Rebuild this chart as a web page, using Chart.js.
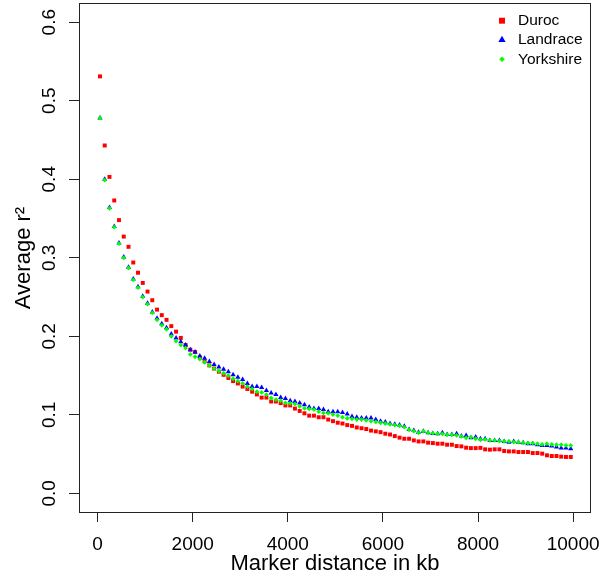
<!DOCTYPE html>
<html><head><meta charset="utf-8">
<script src="https://cdn.jsdelivr.net/npm/chart.js@4.4.1/dist/chart.umd.min.js"></script>
<style>html,body{margin:0;padding:0;background:#fff;} #wrap{width:600px;height:580px;}</style>
</head><body><div id="wrap"><canvas id="c" width="600" height="580"></canvas></div>
<script>
const distanceKb = [
  50,150,250,350,450,550,650,750,850,950,
  1050,1150,1250,1350,1450,1550,1650,1750,1850,1950,
  2050,2150,2250,2350,2450,2550,2650,2750,2850,2950,
  3050,3150,3250,3350,3450,3550,3650,3750,3850,3950,
  4050,4150,4250,4350,4450,4550,4650,4750,4850,4950,
  5050,5150,5250,5350,5450,5550,5650,5750,5850,5950,
  6050,6150,6250,6350,6450,6550,6650,6750,6850,6950,
  7050,7150,7250,7350,7450,7550,7650,7750,7850,7950,
  8050,8150,8250,8350,8450,8550,8650,8750,8850,8950,
  9050,9150,9250,9350,9450,9550,9650,9750,9850,9950
];
const duroc = [
  0.531,0.443,0.403,0.373,0.348,0.327,0.314,0.294,0.281,0.268,
  0.257,0.246,0.234,0.227,0.221,0.213,0.206,0.198,0.189,0.183,
  0.180,0.173,0.168,0.163,0.159,0.155,0.151,0.147,0.143,0.140,
  0.136,0.133,0.1295,0.126,0.122,0.122,0.117,0.117,0.115,0.112,
  0.112,0.108,0.105,0.102,0.099,0.099,0.097,0.097,0.094,0.092,
  0.090,0.089,0.087,0.086,0.084,0.083,0.082,0.080,0.079,0.078,
  0.076,0.075,0.073,0.071,0.0696,0.0696,0.0675,0.0662,0.0662,0.0646,
  0.0641,0.0633,0.0633,0.062,0.062,0.0603,0.0599,0.0582,0.0577,0.0577,
  0.058,0.0561,0.0557,0.0561,0.0561,0.054,0.0535,0.0535,0.0527,0.0527,
  0.0527,0.0514,0.0514,0.0506,0.0485,0.0476,0.0476,0.0468,0.0464,0.0464
];
const landrace = [
  0.478,0.400,0.364,0.340,0.319,0.301,0.288,0.273,0.263,0.251,
  0.242,0.231,0.223,0.216,0.211,0.203,0.198,0.193,0.189,0.183,
  0.180,0.175,0.172,0.168,0.164,0.161,0.158,0.155,0.151,0.148,
  0.145,0.140,0.136,0.136,0.135,0.131,0.128,0.126,0.122,0.121,
  0.118,0.117,0.115,0.113,0.110,0.108,0.108,0.107,0.104,0.104,
  0.104,0.103,0.101,0.098,0.097,0.096,0.096,0.096,0.094,0.092,
  0.091,0.089,0.088,0.087,0.0856,0.0814,0.0801,0.078,0.0793,0.0772,
  0.0763,0.0759,0.0772,0.0751,0.0751,0.0759,0.0730,0.0738,0.0709,0.0717,
  0.0696,0.0696,0.0675,0.0675,0.0675,0.0662,0.0653,0.0662,0.0653,0.0646,
  0.0633,0.0633,0.062,0.0611,0.0611,0.0603,0.059,0.0577,0.0577,0.057
];
const yorkshire = [
  0.478,0.399,0.363,0.339,0.318,0.300,0.287,0.272,0.262,0.250,
  0.241,0.230,0.221,0.214,0.209,0.200,0.194,0.189,0.185,0.177,
  0.174,0.171,0.167,0.163,0.159,0.156,0.153,0.150,0.146,0.143,
  0.140,0.136,0.133,0.1295,0.1286,0.1257,0.1215,0.1194,0.1181,0.1152,
  0.1147,0.1139,0.1109,0.1084,0.1076,0.1067,0.1042,0.1025,0.102,0.1004,
  0.0991,0.097,0.0957,0.095,0.094,0.094,0.093,0.092,0.091,0.090,
  0.089,0.088,0.087,0.086,0.0843,0.0810,0.0793,0.0772,0.0793,0.0772,
  0.0767,0.0759,0.0759,0.0747,0.0747,0.0738,0.0726,0.0709,0.0717,0.0696,
  0.0683,0.0688,0.0675,0.0675,0.0667,0.0662,0.0662,0.0653,0.0653,0.0646,
  0.0641,0.0641,0.0633,0.0624,0.0633,0.0624,0.062,0.062,0.0611,0.0611
];
const xTickValues = [0,2000,4000,6000,8000,10000];
const yTickValues = [0,0.1,0.2,0.3,0.4,0.5,0.6];
const seriesNames = ['Duroc','Landrace','Yorkshire'];
const seriesColors = ['#FF0000','#0000FF','#00FF00'];

const FONT = "'Liberation Sans', Arial, Helvetica, sans-serif";
Chart.defaults.font.family = FONT;
Chart.defaults.color = '#000';

function toPoints(vals){ return distanceKb.map((x,i)=>({x:x, y:vals[i]})); }

const boxPlugin = {
  id:'rbox',
  afterDatasetsDraw(chart){
    const {ctx, chartArea:a} = chart;
    ctx.save();
    ctx.strokeStyle = '#222';
    ctx.lineWidth = 1;
    ctx.strokeRect(a.left+0.5, a.top-0.5, a.right-a.left-1, a.bottom-a.top+1);
    ctx.restore();
  }
};

const legendRadius = [4.2, 4.2, 2.8];
const legendPlugin = {
  id:'rlegend',
  afterDraw(chart){
    const ctx = chart.ctx;
    ctx.save();
    ctx.font = "15.5px " + FONT;
    ctx.textBaseline = 'middle';
    ctx.textAlign = 'left';
    chart.data.datasets.forEach((ds,i)=>{
      const y = 20.7 + i*19.3;
      ctx.fillStyle = ds.pointBackgroundColor;
      Chart.helpers.drawPoint(ctx, {pointStyle: ds.pointStyle, radius: legendRadius[i], rotation: 0, borderWidth: 0}, 502, y);
      ctx.fillStyle = '#000';
      ctx.fillText(ds.label, 518, y);
    });
    ctx.restore();
  }
};

function zeroPad(s){ s.paddingLeft = 0; s.paddingRight = 0; s.paddingTop = 0; s.paddingBottom = 0; }

const styles = ['rect','triangle','rectRot'];
const radii = [2.8, 3.0, 2.4];
const orders = [3,2,1];
const seriesValues = [duroc, landrace, yorkshire];

new Chart(document.getElementById('c'), {
  type:'scatter',
  data:{
    datasets: seriesNames.map((n,i)=>({
      label:n,
      data: toPoints(seriesValues[i]),
      pointStyle: styles[i],
      pointRadius: radii[i],
      pointBackgroundColor: seriesColors[i],
      pointBorderWidth: 0,
      borderColor: seriesColors[i],
      showLine:false,
      order: orders[i]
    }))
  },
  options:{
    responsive:false,
    animation:false,
    devicePixelRatio:1,
    layout:{padding:{left:0,right:9,top:1,bottom:0}},
    plugins:{legend:{display:false}, tooltip:{enabled:false}},
    scales:{
      x:{
        type:'linear', position:'bottom', min:-391, max:10376,
        afterBuildTicks: s=>{ s.ticks = xTickValues.map(v=>({value:v})); },
        afterFit: s=>{ s.height = 68; zeroPad(s); },
        grid:{drawOnChartArea:false, drawTicks:true, tickLength:10, tickColor:'#222', tickWidth:1, lineWidth:1},
        border:{display:false},
        ticks:{autoSkip:false, maxRotation:0, minRotation:0, padding:11, color:'#000', font:{size:19}, callback:v=>String(v)},
        title:{display:true, text:'Marker distance in kb', color:'#000', font:{size:22}, padding:{top:0,bottom:3}}
      },
      y:{
        type:'linear', position:'left', min:-0.02367, max:0.62316,
        afterBuildTicks: s=>{ s.ticks = yTickValues.map(v=>({value:v})); },
        afterFit: s=>{ s.width = 79; zeroPad(s); },
        grid:{drawOnChartArea:false, drawTicks:true, tickLength:10, tickColor:'#222', tickWidth:1, lineWidth:1},
        border:{display:false},
        ticks:{autoSkip:false, minRotation:90, maxRotation:90, crossAlign:'center', padding:6, color:'#000', font:{size:19}, callback:v=>Number(v).toFixed(1)},
        title:{display:true, text:'Average r\u00B2', color:'#000', font:{size:22}, padding:{top:11,bottom:0}}
      }
    }
  },
  plugins:[boxPlugin, legendPlugin]
});
</script>
</body></html>
